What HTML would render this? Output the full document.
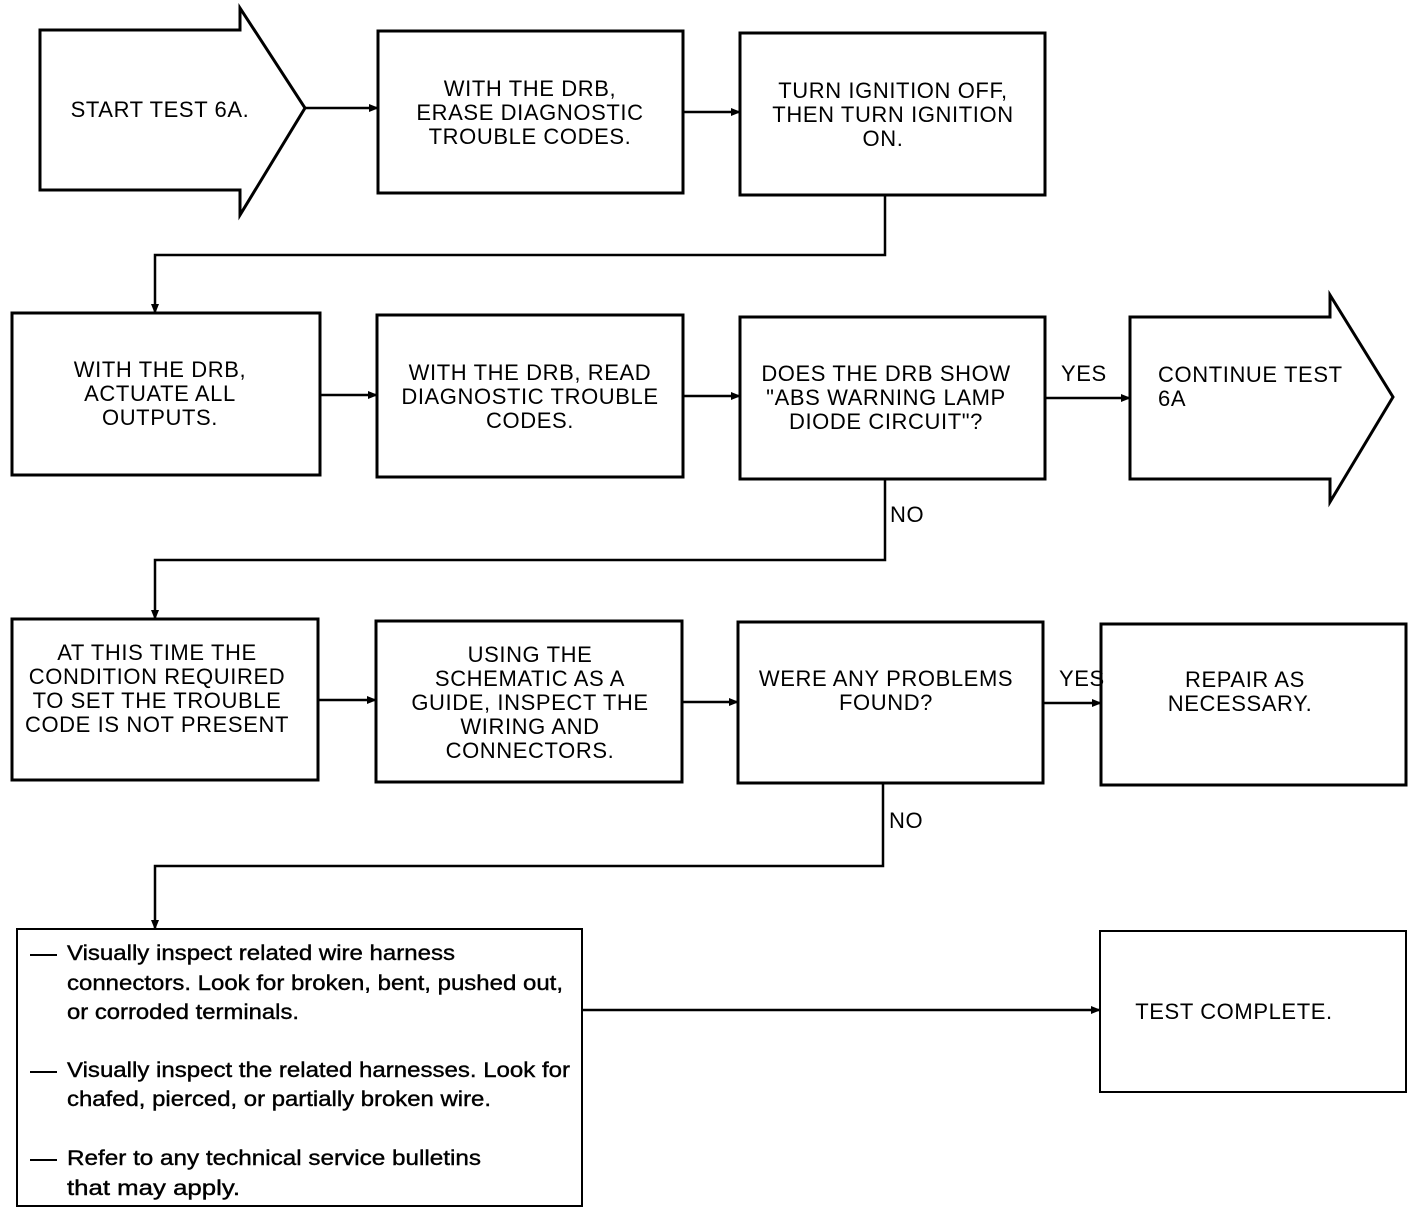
<!DOCTYPE html>
<html><head><meta charset="utf-8"><style>
html,body{margin:0;padding:0;background:#fff}
svg text{font-family:"Liberation Sans",sans-serif;fill:#000}
.t{font-size:22px;letter-spacing:0.6px}
.b{font-size:21px;stroke:#000;stroke-width:0.4px}
</style></head><body>
<svg width="1424" height="1214" viewBox="0 0 1424 1214" xmlns="http://www.w3.org/2000/svg">
<defs><marker id="a" markerWidth="10" markerHeight="8" refX="9" refY="4" orient="auto" markerUnits="userSpaceOnUse"><path d="M0,0 L10,4 L0,8 Z" fill="#000"/></marker></defs>
<g fill="none" stroke="#000" stroke-width="3">
<polygon points="40,30 240,30 240,8 305,108 240,215 240,190 40,190"/>
<rect x="378" y="31" width="305" height="162"/>
<rect x="740" y="33" width="305" height="162"/>
<rect x="12" y="313" width="308" height="162"/>
<rect x="377" y="315" width="306" height="162"/>
<rect x="740" y="317" width="305" height="162"/>
<polygon points="1130,317 1330,317 1330,295 1393,397 1330,502 1330,479 1130,479"/>
<rect x="12" y="619" width="306" height="161"/>
<rect x="376" y="621" width="306" height="161"/>
<rect x="738" y="622" width="305" height="161"/>
<rect x="1101" y="624" width="305" height="161"/>
<rect x="17" y="929" width="565" height="277" stroke-width="2"/>
<rect x="1100" y="931" width="306" height="161" stroke-width="2"/>
</g>
<g fill="none" stroke="#000" stroke-width="2.5" marker-end="url(#a)">
<path d="M305,108 H378"/>
<path d="M683,112 H740"/>
<path d="M885,195 V255 H155 V313"/>
<path d="M320,395 H377"/>
<path d="M683,396 H740"/>
<path d="M1045,398 H1130"/>
<path d="M885,479 V560 H155 V619"/>
<path d="M318,700 H376"/>
<path d="M682,702 H738"/>
<path d="M1043,703 H1101"/>
<path d="M883,783 V866 H155 V929"/>
<path d="M582,1010 H1100"/>
</g>
<g class="t" text-anchor="middle">
<text x="160" y="117">START TEST 6A.</text>
<text x="530" y="96">WITH THE DRB,</text>
<text x="530" y="120">ERASE DIAGNOSTIC</text>
<text x="530" y="144">TROUBLE CODES.</text>
<text x="893" y="98">TURN IGNITION OFF,</text>
<text x="893" y="122">THEN TURN IGNITION</text>
<text x="883" y="146">ON.</text>
<text x="160" y="377">WITH THE DRB,</text>
<text x="160" y="401">ACTUATE ALL</text>
<text x="160" y="425">OUTPUTS.</text>
<text x="530" y="380">WITH THE DRB, READ</text>
<text x="530" y="404">DIAGNOSTIC TROUBLE</text>
<text x="530" y="428">CODES.</text>
<text x="886" y="381">DOES THE DRB SHOW</text>
<text x="886" y="405">"ABS WARNING LAMP</text>
<text x="886" y="429">DIODE CIRCUIT"?</text>
<text x="157" y="660">AT THIS TIME THE</text>
<text x="157" y="684">CONDITION REQUIRED</text>
<text x="157" y="708">TO SET THE TROUBLE</text>
<text x="157" y="732">CODE IS NOT PRESENT</text>
<text x="530" y="662">USING THE</text>
<text x="530" y="686">SCHEMATIC AS A</text>
<text x="530" y="710">GUIDE, INSPECT THE</text>
<text x="530" y="734">WIRING AND</text>
<text x="530" y="758">CONNECTORS.</text>
<text x="886" y="686">WERE ANY PROBLEMS</text>
<text x="886" y="710">FOUND?</text>
<text x="1245" y="687">REPAIR AS</text>
<text x="1240" y="711">NECESSARY.</text>
<text x="1234" y="1019">TEST COMPLETE.</text>
</g>
<g class="t">
<text x="1158" y="382">CONTINUE TEST</text>
<text x="1158" y="406">6A</text>
<text x="1061" y="381">YES</text>
<text x="1059" y="686">YES</text>
<text x="890" y="522">NO</text>
<text x="889" y="828">NO</text>
</g>
<g fill="#000">
<rect x="30" y="954" width="27" height="2"/>
<rect x="30" y="1071" width="27" height="2"/>
<rect x="30" y="1159" width="27" height="2"/>
</g>
<g class="b">
<text x="67" y="960" textLength="388" lengthAdjust="spacingAndGlyphs">Visually inspect related wire harness</text>
<text x="67" y="990" textLength="496" lengthAdjust="spacingAndGlyphs">connectors. Look for broken, bent, pushed out,</text>
<text x="67" y="1019" textLength="232" lengthAdjust="spacingAndGlyphs">or corroded terminals.</text>
<text x="67" y="1077" textLength="503" lengthAdjust="spacingAndGlyphs">Visually inspect the related harnesses. Look for</text>
<text x="67" y="1106" textLength="424" lengthAdjust="spacingAndGlyphs">chafed, pierced, or partially broken wire.</text>
<text x="67" y="1165" textLength="414" lengthAdjust="spacingAndGlyphs">Refer to any technical service bulletins</text>
<text x="67" y="1195" textLength="173" lengthAdjust="spacingAndGlyphs">that may apply.</text>
</g>
</svg>
</body></html>
